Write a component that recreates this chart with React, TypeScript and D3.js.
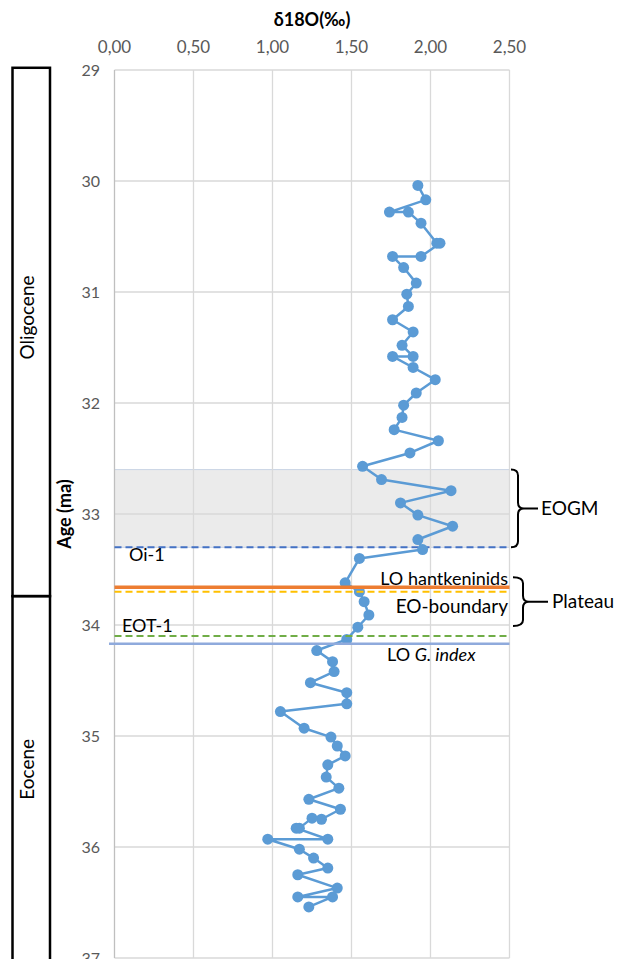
import React from 'react';
import * as d3 from 'd3';

// δ18O record (top to bottom, in drawing order)
const ages = [
  30.04, 30.17, 30.28, 30.28, 30.38, 30.56, 30.56, 30.68, 30.68, 30.78,
  30.92, 31.02, 31.13, 31.25, 31.36, 31.48, 31.58, 31.58, 31.68, 31.79,
  31.91, 32.02, 32.13, 32.24, 32.34, 32.45, 32.57, 32.69, 32.79, 32.9,
  33.01, 33.11, 33.23, 33.32, 33.4, 33.62, 33.7, 33.79, 33.91, 34.02,
  34.13, 34.23, 34.33, 34.42, 34.52, 34.61, 34.71, 34.78, 34.93, 35.01,
  35.09, 35.18, 35.26, 35.37, 35.47, 35.57, 35.66, 35.75, 35.74, 35.83,
  35.83, 35.93, 35.93, 36.02, 36.1, 36.19, 36.25, 36.37, 36.45, 36.45,
  36.54,
];
const d18O = [
  1.92, 1.97, 1.74, 1.86, 1.94, 2.04, 2.06, 1.94, 1.76, 1.83,
  1.91, 1.85, 1.86, 1.76, 1.89, 1.82, 1.89, 1.76, 1.89, 2.03,
  1.91, 1.83, 1.82, 1.77, 2.05, 1.87, 1.57, 1.69, 2.13, 1.81,
  1.92, 2.14, 1.92, 1.95, 1.55, 1.46, 1.55, 1.58, 1.61, 1.54,
  1.47, 1.28, 1.38, 1.39, 1.24, 1.47, 1.47, 1.05, 1.2, 1.37,
  1.41, 1.46, 1.35, 1.34, 1.42, 1.23, 1.43, 1.31, 1.25, 1.17,
  1.15, 1.35, 0.97, 1.17, 1.26, 1.35, 1.16, 1.41, 1.16, 1.38,
  1.23,
];

const xTicks = [0, 0.5, 1, 1.5, 2, 2.5];
const yTicks = [29, 30, 31, 32, 33, 34, 35, 36, 37];

// events (horizontal lines)
const eventNames = ['Oi-1', 'LO hantkeninids', 'EO-boundary', 'EOT-1', 'LO G. index'];
const eventAges = [33.3, 33.66, 33.7, 34.1, 34.17];

// EOGM shaded interval
const bandAges = [32.6, 33.3];

// brackets on the right
const bracketNames = ['EOGM', 'Plateau'];
const bracketFrom = [32.6, 33.57];
const bracketTo = [33.3, 34.01];

// epochs on the left
const epochNames = ['Oligocene', 'Eocene'];
const epochFrom = [28.98, 33.74];
const epochTo = [33.74, 37.2];
const epochLabelAge = [31.23, 35.3];

const W = 617;
const H = 959;
const FONT = 'Lato, "Open Sans", sans-serif';
const BLUE = '#5B9BD5';

export default function App() {
  const x = d3.scaleLinear().domain([0, 2.5]).range([114.5, 509.5]);
  const y = d3.scaleLinear().domain([29, 37]).range([70, 958]);

  const pts = ages.map((a, i) => [d18O[i], a] as [number, number]);
  const line = d3.line<[number, number]>().x(d => x(d[0])).y(d => y(d[1]));

  // styling of the event lines, same order as eventNames
  const evStyle = [
    { color: '#4472C4', width: 2, dash: '7,4', x0: 114.5 },
    { color: '#ED7D31', width: 3.5, dash: null, x0: 114.5 },
    { color: '#FFC000', width: 2, dash: '7,4', x0: 114.5 },
    { color: '#70AD47', width: 2, dash: '7,4', x0: 114.5 },
    { color: '#8FAADC', width: 2.5, dash: null, x0: 109 },
  ];

  const brace = (y0: number, y1: number, xl: number, xv: number, xt: number) => {
    const ym = (y0 + y1) / 2;
    const r = 6;
    return `M${xl},${y0} Q${xv},${y0} ${xv},${y0 + r} L${xv},${ym - r} Q${xv},${ym} ${xv + r},${ym} L${xt},${ym}` +
      ` M${xv + r},${ym} Q${xv},${ym} ${xv},${ym + r} L${xv},${y1 - r} Q${xv},${y1} ${xl},${y1}`;
  };
  const braceGeom = [
    { xl: 511, xv: 518, xt: 538, tx: 541 },
    { xl: 513, xv: 523, xt: 548, tx: 552 },
  ];

  const [x0, x1] = x.range();
  const [yTop, yBot] = y.range();

  return (
    <svg width={W} height={H} style={{ position: 'absolute', left: 0, top: 0 }} fontFamily={FONT}>
      <rect width={W} height={H} fill="#fff" />

      {/* shaded EOGM band */}
      <rect x={x0} y={y(bandAges[0])} width={x1 - x0} height={y(bandAges[1]) - y(bandAges[0])}
        fill="#EBEBEB" stroke="#C8D3E4" strokeWidth={1} />

      {/* gridlines */}
      {yTicks.map(t => (
        <line key={'gy' + t} x1={x0} x2={x1} y1={y(t)} y2={y(t)} stroke="#D9D9D9" strokeWidth={1.3} />
      ))}
      {xTicks.map(t => (
        <line key={'gx' + t} x1={x(t)} x2={x(t)} y1={yTop} y2={yBot} stroke={t === 0 ? '#BFBFBF' : '#D9D9D9'} strokeWidth={1.3} />
      ))}

      {/* Oi-1 line below the data */}
      <line x1={evStyle[0].x0} x2={x1} y1={y(eventAges[0])} y2={y(eventAges[0])}
        stroke={evStyle[0].color} strokeWidth={evStyle[0].width} strokeDasharray={evStyle[0].dash ?? undefined} />

      {/* series */}
      <path d={line(pts) ?? ''} fill="none" stroke={BLUE} strokeWidth={2.5} strokeLinejoin="round" />
      {pts.map((p, i) => (
        <circle key={'p' + i} cx={x(p[0])} cy={y(p[1])} r={5.5} fill={BLUE} />
      ))}

      {/* other event lines on top */}
      {eventAges.slice(1).map((a, j) => {
        const s = evStyle[j + 1];
        return (
          <line key={'ev' + j} x1={s.x0} x2={x1} y1={y(a)} y2={y(a)}
            stroke={s.color} strokeWidth={s.width} strokeDasharray={s.dash ?? undefined} />
        );
      })}

      {/* event labels */}
      <g fontSize={18} fill="#000">
        <text x={129} y={y(eventAges[0]) + 14}>{eventNames[0]}</text>
        <text x={508} y={y(eventAges[1]) - 2} textAnchor="end">{eventNames[1]}</text>
        <text x={508} y={y(eventAges[2]) + 21} textAnchor="end" fontSize={19}>{eventNames[2]}</text>
        <text x={122} y={y(eventAges[3]) - 4}>{eventNames[3]}</text>
        <text x={387} y={y(eventAges[4]) + 17}>
          LO <tspan fontStyle="italic">G. index</tspan>
        </text>
      </g>

      {/* brackets */}
      {bracketNames.map((n, i) => {
        const g = braceGeom[i];
        const ya = y(bracketFrom[i]);
        const yb = y(bracketTo[i]);
        return (
          <g key={n}>
            <path d={brace(ya, yb, g.xl, g.xv, g.xt)} fill="none" stroke="#000" strokeWidth={2} />
            <text x={g.tx} y={(ya + yb) / 2} dy="0.35em" fontSize={19}>{n}</text>
          </g>
        );
      })}

      {/* x axis (top) */}
      {xTicks.map(t => (
        <text key={'xt' + t} x={x(t)} y={53} textAnchor="middle" fontSize={17} fill="#595959">
          {d3.format('.2f')(t).replace('.', ',')}
        </text>
      ))}
      <text x={(x0 + x1) / 2} y={26} textAnchor="middle" fontSize={18} fontWeight="bold" fill="#000">δ18O(‰)</text>

      {/* y axis */}
      {yTicks.map(t => (
        <text key={'yt' + t} x={100} y={y(t)} dy="0.35em" textAnchor="end" fontSize={16} fill="#595959">{t}</text>
      ))}
      <text transform={`translate(71,${(yTop + yBot) / 2}) rotate(-90)`} textAnchor="middle" fontSize={18} fontWeight="bold" fill="#000">Age (ma)</text>

      {/* epochs */}
      {epochNames.map((n, i) => (
        <g key={n}>
          <rect x={12.5} y={y(epochFrom[i])} width={37.5} height={y(epochTo[i]) - y(epochFrom[i])}
            fill="none" stroke="#000" strokeWidth={2.5} />
          <text transform={`translate(34,${y(epochLabelAge[i])}) rotate(-90)`} textAnchor="middle" fontSize={19} fill="#000">{n}</text>
        </g>
      ))}
    </svg>
  );
}
